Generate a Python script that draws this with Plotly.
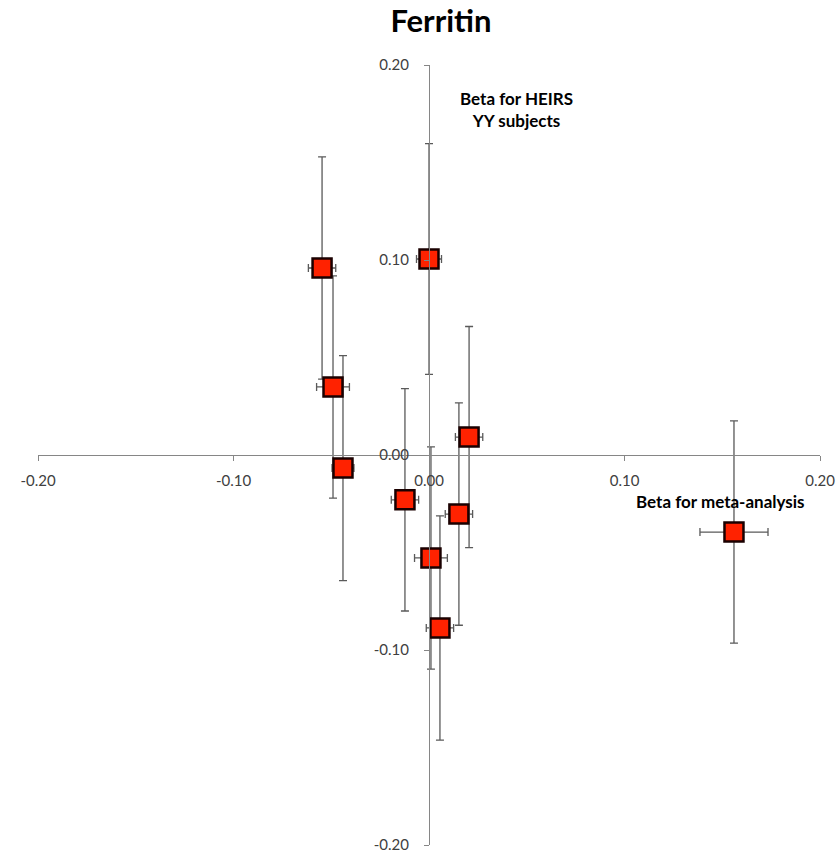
import plotly.graph_objects as go

# Beta estimates: meta-analysis (x) vs HEIRS YY subjects (y), with standard errors
beta_meta = [-0.0547, -0.0491, -0.0440, 0.0000, -0.0123, 0.0010, 0.0056, 0.0153, 0.0205, 0.1560]
beta_heirs = [0.0959, 0.0349, -0.0067, 0.1005, -0.0230, -0.0528, -0.0887, -0.0303, 0.0092, -0.0395]
err_meta = [0.0070, 0.0084, 0.0056, 0.0064, 0.0070, 0.0084, 0.0070, 0.0070, 0.0070, 0.0174]
err_heirs = [0.0570, 0.0570, 0.0577, 0.0592, 0.0570, 0.0570, 0.0575, 0.0570, 0.0567, 0.0570]

tick_vals = [-0.20, -0.10, 0.00, 0.10, 0.20]
tick_text = ["-0.20", "-0.10", "0.00", "0.10", "0.20"]

FONT = "Lato"
AXIS_GREY = "#868686"
LABEL_GREY = "#404040"

fig = go.Figure()
fig.add_trace(go.Scatter(
    x=beta_meta,
    y=beta_heirs,
    mode="markers",
    marker=dict(symbol="square", size=19, color="#FF2200",
                line=dict(color="#1a0000", width=2.5)),
    error_x=dict(type="data", array=err_meta, visible=True,
                 color="#5a5a5a", thickness=1.3, width=4),
    error_y=dict(type="data", array=err_heirs, visible=True,
                 color="#5a5a5a", thickness=1.3, width=4),
    showlegend=False,
    hoverinfo="x+y",
))

axis_common = dict(
    range=[-0.2, 0.2],
    tickvals=tick_vals,
    ticktext=tick_text,
    showgrid=False,
    zeroline=False,
    showline=True,
    linecolor=AXIS_GREY,
    linewidth=1,
    ticks="outside",
    ticklen=5,
    tickcolor=AXIS_GREY,
    tickfont=dict(family=FONT, size=15, color=LABEL_GREY),
    anchor="free",
    position=0.5,
    automargin=False,
)

fig.update_layout(
    width=836,
    height=856,
    margin=dict(l=38, r=16, t=65, b=11),
    paper_bgcolor="white",
    plot_bgcolor="white",
    title=dict(text="<b>Ferritin</b>", x=0.5275, xanchor="center", y=0.975, yanchor="middle",
               font=dict(family=FONT, size=31, color="#000000")),
    xaxis=dict(**axis_common, ticklabelstandoff=7),
    yaxis=dict(**axis_common, ticklabelstandoff=12),
    annotations=[
        dict(x=0.0450, y=0.177, xref="x", yref="y", showarrow=False,
             text="<b>Beta for HEIRS<br>YY subjects</b>",
             font=dict(family=FONT, size=17, color="#000000"), align="center"),
        dict(x=0.1490, y=-0.0236, xref="x", yref="y", showarrow=False,
             text="<b>Beta for meta-analysis</b>",
             font=dict(family=FONT, size=17, color="#000000"), align="center"),
    ],
)

fig.write_html("out.html")
